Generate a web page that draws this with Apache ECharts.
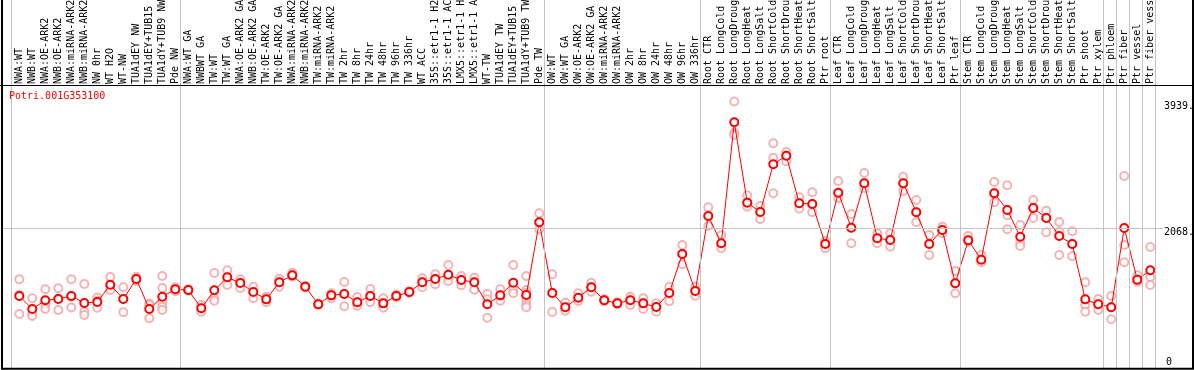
<!DOCTYPE html>
<html><head><meta charset="utf-8">
<script src="https://cdn.jsdelivr.net/npm/echarts@6/dist/echarts.min.js"></script>
<style>html,body{margin:0;padding:0;background:#fff}#c{width:1194px;height:370px}</style>
</head><body><div id="c"></div>
<script>
const geneId = 'Potri.001G353100';
const categories = [
  "NWA:WT","NWB:WT","NWA:OE-ARK2","NWB:OE-ARK2","NWA:miRNA-ARK2","NWB:miRNA-ARK2","NW 0hr","WT H2O","WT-NW","TUA1dEY NW","TUA1dEY+TUB15 NW","TUA1dY+TUB9 NW","Pde NW",
  "NWA:WT GA","NWBWT GA","TW:WT","TW:WT GA","NWA:OE-ARK2 GA","NWB:OE-ARK2 GA","TW:OE-ARK2","TW:OE-ARK2 GA","NWA:miRNA-ARK2 GA","NWB:miRNA-ARK2 GA","TW:miRNA-ARK2","TW:miRNA-ARK2 GA","TW 2hr","TW 8hr","TW 24hr","TW 48hr","TW 96hr","TW 336hr","WT ACC","35S::etr1-1 H2O","35S::etr1-1 ACC","LMX5::etr1-1 H2O","LMX5::etr1-1 ACC","WT-TW","TUA1dEY TW","TUA1dEY+TUB15 TW","TUA1dY+TUB9 TW","Pde TW",
  "OW:WT","OW:WT GA","OW:OE-ARK2","OW:OE-ARK2 GA","OW:miRNA-ARK2","OW:miRNA-ARK2 GA","OW 2hr","OW 8hr","OW 24hr","OW 48hr","OW 96hr","OW 336hr",
  "Root CTR","Root LongCold","Root LongDrought","Root LongHeat","Root LongSalt","Root ShortCold","Root ShortDrought","Root ShortHeat","Root ShortSalt","Ptr root",
  "Leaf CTR","Leaf LongCold","Leaf LongDrought","Leaf LongHeat","Leaf LongSalt","Leaf ShortCold","Leaf ShortDrought","Leaf ShortHeat","Leaf ShortSalt","Ptr leaf",
  "Stem CTR","Stem LongCold","Stem LongDrought","Stem LongHeat","Stem LongSalt","Stem ShortCold","Stem ShortDrought","Stem ShortHeat","Stem ShortSalt","Ptr shoot","Ptr xylem",
  "Ptr phloem","Ptr fiber","Ptr vessel","Ptr fiber vessel"
];
const means = [
  1069,878,1006,1025,1069,966,981,1236,1025,1320,878,1059,1168,
  1158,888,1153,1345,1261,1128,1020,1271,1374,1207,947,1079,1099,976,1069,961,1069,1128,1271,1320,1384,1305,1271,947,1079,1266,1084,2156,
  1114,903,1044,1198,1006,961,1006,961,907,1114,1689,1143,
  2249,1847,3631,2446,2308,3012,3139,2437,2426,1836,
  2593,2077,2732,1920,1895,2732,2304,1836,2043,1257,
  1891,1605,2584,2338,1944,2367,2220,1954,1836,1020,947,
  903,2072,1310,1448
];
const replicates = [
  [1316,1087,804],[1035,804,774],[1168,947,878],[1183,1025,863],[1316,1060,900],[1246,838,789],[1044,1000,897],[1350,1200,1158],[1198,1025,829],[1354,1320,1290],[957,937,740],[1364,1187,976,912,863],[1198,1168,1140],
  [1170,1158,1146],[937,888,838],[1409,1035,1000],[1448,1345,1232],[1316,1261,1187],[1207,1128,1035],[1059,1020,976],[1325,1271,1207],[1413,1374,1354],[1220,1207,1195],[960,947,935],[1109,1079,1035],[1276,1099,917],[1054,976,927],[1173,1069,976],[1035,961,897],[1090,1069,1050],[1140,1128,1115],[1330,1271,1198],[1389,1320,1242],[1527,1345,1291],[1364,1305,1227],[1340,1271,1163],[1099,1020,749],[1168,1079,1000],[1527,1160,1109],[1364,1158,1119,1060,1000,937,903],[2289,2156,2053],
  [1389,1114,833],[971,903,853],[1109,1044,996],[1266,1198,1133],[1020,1006,992],[975,961,947],[1059,1006,937],[1035,961,878],[961,907,838],[1207,1114,991],[1822,1689,1537],[1207,1143,1074],
  [2378,2249,2102],[1965,1807,1773],[3939,3478,3444],[2555,2446,2387],[2397,2308,2201],[3322,3109,2584],[3193,3139,3056],[2525,2437,2357],[2599,2426,2304],[1881,1836,1773],
  [2766,2593,2510],[2279,2077,1847],[2884,2732,2658],[1994,1920,1847],[1994,1895,1797],[2829,2732,2618],[2485,2304,2156],[1969,1836,1674],[2092,2043,1994],[1438,1257,1109],
  [1954,1891,1870],[1674,1605,1566],[2751,2584,2451],[2702,2260,2053],[2117,1856,1807],[2485,2367,2220],[2328,2220,2009],[2161,2018,1674],[2024,1836,1655],[1271,937,838],[1025,947,863],
  [1069,903,726],[2839,1822,1566],[1374,1310,1280],[1792,1345,1232]
];
const groupStarts = [0,13,41,53,63,73,84,85,86,87,88];
const yTickLabels = [2068, 3939];
const yZeroLabel = [0];
const yGrid = [2068];

const FONT = 'DejaVu Sans Mono';
const chart = echarts.init(document.getElementById('c'), null, {renderer: 'canvas'});
const repData = [];
replicates.forEach((arr, i) => arr.forEach(v => repData.push([i, v])));
const meanData = means.map((v, i) => [i, v]);

const X_MIN = -1.408, X_MAX = 87.98, Y_MAX = 5435;
const yAxisBase = {
  type: 'value', position: 'right', min: 0, max: Y_MAX,
  axisLine: {show: false}, axisTick: {show: false}, splitLine: {show: false}
};
const markLineData = groupStarts.map(s => ({xAxis: s - 0.62})).concat(yGrid.map(v => ({yAxis: v})));

chart.setOption({
  animation: false,
  backgroundColor: '#fff',
  title: {
    text: geneId, left: 9, top: 91, padding: 0,
    textStyle: {color: '#ff0000', fontFamily: FONT, fontSize: 10, fontWeight: 'normal', lineHeight: 10}
  },
  grid: {left: 1, right: 31, top: 0, bottom: 1.5, containLabel: false, outerBoundsMode: 'none'},
  xAxis: {
    type: 'value', position: 'top', offset: -86, min: X_MIN, max: X_MAX,
    axisLine: {show: false}, axisTick: {show: false}, splitLine: {show: false},
    axisLabel: {
      customValues: categories.map((c, i) => i),
      formatter: v => categories[Math.round(v)],
      rotate: 90, margin: 2, color: '#000', fontFamily: FONT, fontSize: 10
    }
  },
  yAxis: [
    Object.assign({}, yAxisBase, {
      axisLabel: {customValues: yTickLabels, formatter: v => v + '.', verticalAlign: 'top', lineHeight: 9,
        margin: 1, color: '#000', fontFamily: FONT, fontSize: 10, align: 'left'}
    }),
    Object.assign({}, yAxisBase, {
      axisLabel: {customValues: yZeroLabel, formatter: v => String(v), verticalAlign: 'bottom', lineHeight: 13,
        margin: 3, color: '#000', fontFamily: FONT, fontSize: 10, align: 'left'}
    })
  ],
  series: [
    {
      type: 'line', data: meanData, z: 1, silent: true, showSymbol: false,
      lineStyle: {opacity: 0}, itemStyle: {opacity: 0},
      markLine: {
        silent: true, symbol: ['none', 'none'], label: {show: false},
        lineStyle: {color: '#c4c4c4', type: 'solid', width: 1},
        emphasis: {disabled: true},
        data: markLineData
      }
    },
    {
      type: 'scatter', data: repData, z: 3, symbol: 'emptyCircle', symbolSize: 8,
      itemStyle: {color: '#f2a0a0', borderColor: '#f2a0a0', borderWidth: 1.2}
    },
    {
      type: 'line', data: meanData, z: 4, symbol: 'emptyCircle', symbolSize: 8,
      lineStyle: {color: '#ff0000', width: 1},
      itemStyle: {color: '#ff0000', borderColor: '#e00000', borderWidth: 1.6}
    }
  ],
  graphic: [
    {type: 'rect', z: 100, silent: true, shape: {x: 2, y: -5, width: 1191, height: 373.7},
      style: {fill: 'none', stroke: '#000', lineWidth: 2}},
    {type: 'line', z: 100, silent: true, shape: {x1: 0, y1: 85.5, x2: 1194, y2: 85.5},
      style: {stroke: '#000', lineWidth: 1}}
  ]
});
</script></body></html>
